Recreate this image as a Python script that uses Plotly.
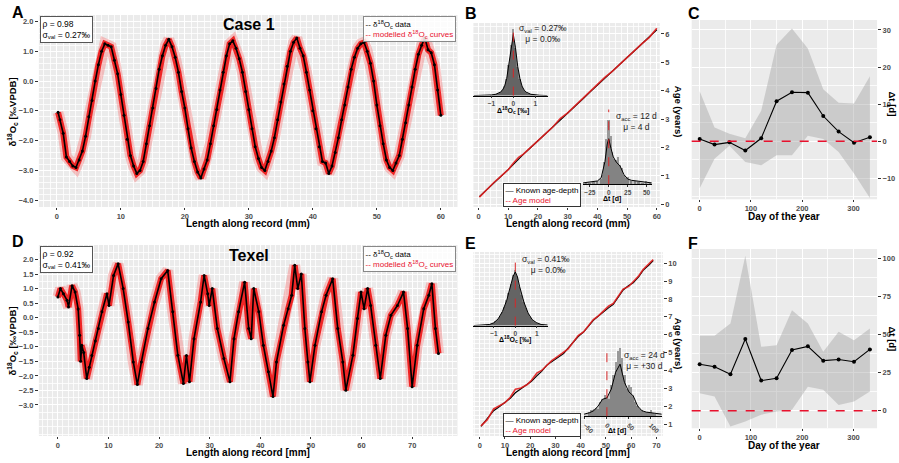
import plotly.graph_objects as go

W, H = 899, 463
def px(x): return x / W
def py(y): return 1 - y / H

FONT = "Liberation Sans, Arial, sans-serif"
TICKC = "#4D4D4D"

# ---------------- Panel A (Case 1) ----------------
A_len = [0.2, 0.5, 1.0, 1.5, 2.0, 2.5, 3.0, 3.5, 4.0, 4.5, 5.0, 5.5, 6.0, 6.5, 7.0, 7.5, 8.0, 8.5, 9.0, 9.5,
         10.0, 10.5, 11.0, 11.5, 12.0, 12.5, 13.0, 13.5, 14.0, 14.5, 15.0, 15.5, 16.0, 16.5, 17.0, 17.5, 18.0, 18.5, 19.0, 19.5,
         20.0, 20.5, 21.0, 21.5, 22.0, 22.5, 23.0, 23.5, 24.0, 24.5, 25.0, 25.5, 26.0, 26.5, 27.0, 27.5, 28.0, 28.5, 29.0, 29.5,
         30.0, 30.5, 31.0, 31.5, 32.0, 32.5, 33.0, 33.5, 34.0, 34.5, 35.0, 35.5, 36.0, 36.5, 37.0, 37.5, 38.0, 38.5, 39.0, 39.5,
         40.0, 40.5, 41.0, 41.5, 42.0, 42.5, 43.0, 43.5, 44.0, 44.5, 45.0, 45.5, 46.0, 46.5, 47.0, 47.5, 48.0, 48.5, 49.0, 49.5,
         50.0, 50.5, 51.0, 51.5, 52.0, 52.5, 53.0, 53.5, 54.0, 54.5, 55.0, 55.5, 56.0, 56.5, 57.0, 57.5, 58.0, 58.5, 59.0, 59.5, 60.0]
A_d18O = [-1.05, -1.3, -1.75, -2.55, -2.7, -2.85, -2.9, -2.65, -2.35, -1.85, -1.2, -0.65, 0.0, 0.55, 1.0, 1.25, 1.2, 1.15, 0.7, 0.25,
          -0.45, -1.15, -1.95, -2.5, -2.85, -3.1, -3.0, -2.7, -2.1, -1.5, -0.9, -0.25, 0.4, 0.85, 1.2, 1.4, 1.15, 0.8, 0.3, -0.35,
          -0.9, -1.6, -2.25, -2.7, -3.05, -3.25, -2.95, -2.65, -2.1, -1.5, -0.95, -0.3, 0.3, 0.85, 1.25, 1.35, 1.1, 0.75, 0.3, -0.35,
          -0.95, -1.6, -2.2, -2.6, -2.9, -3.0, -2.7, -2.35, -1.9, -1.3, -0.7, -0.1, 0.5, 1.0, 1.3, 1.45, 1.1, 0.85, 0.3, -0.3,
          -1.0, -1.6, -2.2, -2.7, -2.75, -3.1, -2.85, -2.4, -1.9, -1.3, -0.8, -0.2, 0.4, 0.8, 1.1, 1.25, 1.3, 1.0, 0.6, 0.0,
          -0.8, -1.5, -2.1, -2.65, -2.9, -3.0, -2.75, -2.5, -1.95, -1.4, -0.8, -0.2, 0.4, 0.9, 1.2, 1.45, 1.05, 0.95, 0.55, -0.3, -1.15]

# ---------------- Panel D (Texel) ----------------
D_len = [0.0, 0.5, 1.1, 1.8, 2.1, 2.8, 3.4, 4.0, 4.3, 4.5, 4.7, 5.1, 5.7, 6.2, 6.7, 7.4, 8.0, 8.7, 9.7, 10.1,
         11.0, 11.9, 12.9, 13.9, 14.9, 15.7, 16.5, 17.8, 19.1, 20.4, 21.7, 22.7, 23.7, 24.8, 25.4, 26.0, 26.9, 28.2, 28.9, 29.6,
         29.9, 30.5, 31.5, 32.8, 34.0, 34.8, 35.7, 36.9, 37.7, 38.2, 38.7, 39.7, 40.6, 41.6, 42.5, 43.2, 44.6, 45.5, 46.2, 46.8,
         47.4, 48.1, 48.8, 49.4, 49.8, 50.8, 52.1, 53.0, 54.3, 55.3, 56.3, 56.9, 58.3, 59.2, 59.9, 60.5, 61.2, 61.8, 62.8, 63.7,
         64.8, 65.8, 67.1, 68.3, 69.1, 70.0, 71.0, 72.3, 73.3, 73.9, 74.6, 75.2]
D_d18O = [0.71, 1.0, 0.82, 0.6, 0.37, 1.1, 0.88, 0.3, -0.6, -1.5, -0.95, -1.2, -2.09, -1.7, -1.3, -0.8, -0.37, 0.2, 0.82, 0.42,
          1.45, 1.85, 1.0, -0.15, -1.52, -2.3, -1.52, -0.37, 0.54, 1.34, 1.62, 0.2, -1.29, -2.26, -1.3, -2.2, -0.72, 0.54, 1.45, 0.82,
          0.42, 1.0, -0.37, -1.4, -2.2, -0.72, 0.2, 1.22, -0.37, -0.72, 1.0, 0.2, -0.95, -1.86, -2.71, -1.52, -0.26, 0.31, 0.77, 1.8,
          1.0, 1.5, -0.37, -1.52, -2.2, -0.95, 0.2, 0.77, 1.34, -0.37, -1.52, -2.49, -1.29, -0.03, 0.88, 0.31, 1.0, 0.42, -0.95, -2.09,
          -0.6, 0.08, 0.42, 0.88, -0.37, -2.37, -0.95, 0.31, 0.77, 1.17, -0.37, -1.23]

# ---------------- Panel B (age-depth, Case 1) ----------------
B_len = [0.3, 2.5, 5, 7.5, 10, 12, 13.5, 15, 17.5, 20, 22.5, 25, 27.5, 30, 32.5, 35, 37.5, 40, 42.5, 45, 47.5, 50, 52.5, 55, 57.5, 60]
B_known = [0.27, 0.48, 0.74, 0.98, 1.22, 1.43, 1.6, 1.75, 1.99, 2.23, 2.47, 2.71, 2.98, 3.22, 3.45, 3.7, 3.95, 4.2, 4.45, 4.68, 4.93, 5.17, 5.41, 5.66, 5.9, 6.15]
B_model = [0.25, 0.5, 0.75, 0.98, 1.22, 1.48, 1.65, 1.76, 1.99, 2.23, 2.48, 2.72, 3.02, 3.22, 3.47, 3.72, 3.95, 4.2, 4.47, 4.68, 4.93, 5.17, 5.42, 5.66, 5.88, 6.2]

# ---------------- Panel E (age-depth, Texel) ----------------
E_len = [0.5, 3, 5.5, 8, 10, 12.1, 14.1, 16, 18.7, 20.5, 22.6, 24.5, 26.6, 28.5, 30.5, 33.2, 35, 37.1, 39, 41.1, 43, 45, 47, 49, 51, 52.9, 55, 56.8, 59, 60.8, 63, 64.7, 67, 68.7]
E_known = [0.87, 1.3, 1.75, 2.0, 2.2, 2.45, 2.75, 2.95, 3.2, 3.4, 3.7, 3.95, 4.3, 4.5, 4.7, 4.95, 5.25, 5.6, 5.9, 6.15, 6.45, 6.8, 7.05, 7.3, 7.5, 7.7, 8.1, 8.5, 8.75, 8.9, 9.25, 9.6, 9.9, 10.15]
E_model = [0.9, 1.25, 1.85, 2.05, 2.2, 2.5, 2.95, 3.0, 3.2, 3.45, 3.85, 4.0, 4.3, 4.55, 4.75, 5.05, 5.2, 5.6, 5.95, 6.15, 6.5, 6.85, 7.05, 7.3, 7.6, 7.75, 8.15, 8.55, 8.7, 8.95, 9.3, 9.65, 9.95, 10.2]

# ---------------- Insets: histograms ----------------
B1_bins = [-1.0, -0.9, -0.8, -0.7, -0.6, -0.5, -0.4, -0.3, -0.2, -0.1, 0.0, 0.1, 0.2, 0.3, 0.4, 0.5, 0.6, 0.7, 0.8, 0.9, 1.0]
B1_counts = [0.01, 0.01, 0.02, 0.03, 0.05, 0.08, 0.14, 0.25, 0.46, 0.76, 1.0, 0.72, 0.43, 0.25, 0.14, 0.08, 0.05, 0.03, 0.02, 0.01, 0.01]
B1_dens_x = [-1.8, -1.2, -1.0, -0.8, -0.6, -0.5, -0.4, -0.3, -0.2, -0.1, 0.0, 0.1, 0.2, 0.3, 0.4, 0.5, 0.6, 0.8, 1.0, 1.2, 1.55]
B1_dens_y = [0.0, 0.005, 0.01, 0.02, 0.05, 0.08, 0.14, 0.26, 0.47, 0.75, 0.92, 0.72, 0.44, 0.26, 0.14, 0.08, 0.05, 0.02, 0.01, 0.005, 0.0]

B2_bins = [-30, -25, -20, -15, -10, -7.5, -5, -2.5, 0, 2.5, 5, 7.5, 10, 12.5, 15, 17.5, 20, 22.5, 25, 30, 35, 40, 45, 50, 55]
B2_counts = [0.03, 0.03, 0.04, 0.05, 0.08, 0.15, 0.35, 0.7, 1.0, 0.75, 0.5, 0.4, 0.38, 0.42, 0.3, 0.25, 0.15, 0.1, 0.12, 0.06, 0.05, 0.04, 0.03, 0.05, 0.02]
B2_dens_x = [-34, -25, -15, -10, -5, -2, 0, 3, 6, 10, 15, 20, 25, 30, 40, 50, 57]
B2_dens_y = [0.02, 0.03, 0.05, 0.1, 0.35, 0.62, 0.7, 0.55, 0.42, 0.34, 0.28, 0.15, 0.08, 0.06, 0.04, 0.03, 0.02]

E1_bins = [-1.3, -1.2, -1.1, -1.0, -0.9, -0.8, -0.7, -0.6, -0.5, -0.4, -0.3, -0.2, -0.1, 0.0, 0.1, 0.2, 0.3, 0.4, 0.5, 0.6, 0.7, 0.8, 0.9, 1.0, 1.1, 1.2, 1.3]
E1_counts = [0.01, 0.02, 0.03, 0.05, 0.08, 0.12, 0.17, 0.25, 0.34, 0.45, 0.58, 0.75, 0.9, 1.0, 0.88, 0.7, 0.55, 0.42, 0.31, 0.22, 0.15, 0.1, 0.07, 0.05, 0.03, 0.02, 0.01]
E1_dens_x = [-1.95, -1.4, -1.2, -1.0, -0.8, -0.6, -0.4, -0.2, -0.1, 0.0, 0.1, 0.2, 0.4, 0.6, 0.8, 1.0, 1.2, 1.5]
E1_dens_y = [0.0, 0.01, 0.02, 0.05, 0.12, 0.25, 0.45, 0.74, 0.88, 0.96, 0.87, 0.7, 0.42, 0.22, 0.1, 0.05, 0.02, 0.01]

E2_bins = [-40, -35, -30, -25, -20, -15, -10, -5, 0, 5, 10, 15, 20, 25, 30, 35, 40, 45, 50, 55, 60, 65, 70, 75, 80, 85, 90, 95, 100, 105, 110]
E2_counts = [0.05, 0.08, 0.1, 0.12, 0.1, 0.2, 0.25, 0.3, 0.28, 0.25, 0.45, 0.6, 0.8, 0.95, 1.0, 0.85, 0.6, 0.4, 0.45, 0.42, 0.3, 0.2, 0.15, 0.1, 0.08, 0.06, 0.05, 0.06, 0.08, 0.04, 0.03]
E2_dens_x = [-52, -40, -30, -20, -10, 0, 10, 20, 30, 40, 50, 60, 70, 80, 90, 100, 110, 125]
E2_dens_y = [0.03, 0.05, 0.08, 0.15, 0.25, 0.27, 0.4, 0.65, 0.77, 0.5, 0.36, 0.3, 0.15, 0.08, 0.06, 0.05, 0.04, 0.03]

# ---------------- Panels C & F: seasonal timing error ----------------
C_day = [0, 29, 58, 89, 120, 150, 180, 211, 241, 271, 301, 332]
C_dt = [0.6, -0.9, -0.3, -2.5, 0.8, 10.8, 13.2, 13.1, 6.8, 2.6, -0.4, 1.1]
C_hi = [13.5, 3.7, 2.0, 0.8, 8.2, 26.0, 30.4, 25.0, 14.0, 10.4, 10.2, 17.5]
C_lo = [-12.7, -4.7, -1.2, -5.6, -6.5, -3.8, -3.8, 1.5, 0.6, -2.9, -8.7, -15.3]

F_day = [0, 29, 60, 89, 120, 150, 180, 211, 241, 271, 301, 332]
F_dt = [30.6, 29.0, 24.0, 47.2, 19.9, 21.4, 40.0, 42.4, 33.0, 33.8, 32.3, 40.4]
F_hi = [49.3, 49.3, 57.4, 102.0, 42.1, 43.2, 66.2, 57.4, 38.9, 52.0, 46.5, 54.1]
F_lo = [11.6, 9.4, -10.3, -7.0, -2.6, -0.4, 0.7, 15.9, 13.8, 3.9, 6.1, 12.7]

ref_zero = 0

fig = go.Figure()

def sc(**kw):
    kw.setdefault("showlegend", False)
    kw.setdefault("hoverinfo", "skip")
    fig.add_trace(go.Scatter(**kw))

# A & D traces
for xs, ys, xa, ya in [(A_len, A_d18O, "x", "y"), (D_len, D_d18O, "x4", "y4")]:
    sc(x=xs, y=ys, mode="lines", line=dict(color="rgba(245,100,100,0.35)", width=11), xaxis=xa, yaxis=ya)
    sc(x=xs, y=ys, mode="lines", line=dict(color="rgba(238,20,20,0.9)", width=6), xaxis=xa, yaxis=ya)
    sc(x=xs, y=ys, mode="lines+markers", line=dict(color="black", width=1.6),
       marker=dict(size=3, color="black"), xaxis=xa, yaxis=ya)

# B & E age-depth
for xs, yk, ym, xa, ya in [(B_len, B_known, B_model, "x2", "y2"), (E_len, E_known, E_model, "x5", "y5")]:
    sc(x=xs, y=yk, mode="lines", line=dict(color="black", width=1.2), xaxis=xa, yaxis=ya)
    sc(x=xs, y=ym, mode="lines", line=dict(color="rgba(225,30,30,0.9)", width=1.6), xaxis=xa, yaxis=ya)

# Insets
def inset(bins, counts, width, dx, dy, xa, ya, fillc):
    fig.add_trace(go.Bar(x=bins, y=counts, width=width, marker=dict(color="#9a9a9a", line=dict(width=0)),
                         xaxis=xa, yaxis=ya, showlegend=False, hoverinfo="skip"))
    sc(x=dx, y=dy, mode="lines", line=dict(color="black", width=1), fill="tozeroy", fillcolor=fillc,
       xaxis=xa, yaxis=ya)

inset(B1_bins, B1_counts, 0.1, B1_dens_x, B1_dens_y, "x7", "y7", "rgba(70,70,70,0.65)")
inset(B2_bins, B2_counts, 2.5, B2_dens_x, B2_dens_y, "x8", "y8", "rgba(90,90,90,0.35)")
inset(E1_bins, E1_counts, 0.1, E1_dens_x, E1_dens_y, "x9", "y9", "rgba(70,70,70,0.65)")
inset(E2_bins, E2_counts, 5, E2_dens_x, E2_dens_y, "x10", "y10", "rgba(90,90,90,0.3)")

# C & F
for d, v, hi, lo, xa, ya in [(C_day, C_dt, C_hi, C_lo, "x3", "y3"), (F_day, F_dt, F_hi, F_lo, "x6", "y6")]:
    sc(x=d, y=hi, mode="lines", line=dict(width=0, color="rgba(0,0,0,0)"), xaxis=xa, yaxis=ya)
    sc(x=d, y=lo, mode="lines", line=dict(width=0, color="rgba(0,0,0,0)"), fill="tonexty",
       fillcolor="rgba(160,160,160,0.42)", xaxis=xa, yaxis=ya)
    sc(x=d, y=v, mode="lines+markers", line=dict(color="black", width=1.1),
       marker=dict(size=4, color="black"), xaxis=xa, yaxis=ya)

# ---------------- Axes ----------------
TF = dict(size=7.5, color=TICKC, family=FONT, weight="bold")

def main_x(domain, rng, dtick, minor, anchor):
    return dict(domain=domain, range=rng, dtick=dtick, anchor=anchor, ticks="outside", ticklen=2,
                tickcolor="#333", tickwidth=1, showgrid=True, gridcolor="white", gridwidth=1.1,
                minor=dict(dtick=minor, showgrid=True, gridcolor="rgba(255,255,255,0.8)", gridwidth=0.5, ticks=""),
                zeroline=False, showline=False, tickfont=TF, ticklabeloverflow="allow")

def main_y(domain, rng, tickvals, minor, anchor, side="left", fmt=None):
    d = dict(domain=domain, range=rng, tickvals=tickvals, anchor=anchor, side=side, ticks="outside", ticklen=3,
             tickcolor="#333", tickwidth=1, showgrid=True, gridcolor="white", gridwidth=1.1,
             minor=dict(dtick=minor, showgrid=True, gridcolor="rgba(255,255,255,0.8)", gridwidth=0.5, ticks=""),
             zeroline=False, showline=False, tickfont=TF, ticklabeloverflow="allow")
    if fmt:
        d["tickformat"] = fmt
    return d

A_yticks = [2.0, 1.0, 0.0, -1.0, -2.0, -3.0, -4.0]
D_yticks = [2.0, 1.5, 1.0, 0.5, 0.0, -0.5, -1.0, -1.5, -2.0, -2.5, -3.0]
B_yticks = [0, 1, 2, 3, 4, 5, 6]
E_yticks = [1, 2, 3, 4, 5, 6, 7, 8, 9, 10]
C_yticks = [-10, 0, 10, 20, 30]
F_yticks = [0, 25, 50, 75, 100]

layout = dict(
    xaxis=main_x([px(37), px(457)], [-2.8, 62.6], 10, 1, "y"),
    yaxis=main_y([py(208), py(15)], [-4.23, 2.22], A_yticks, 0.2, "x", fmt=".1f"),
    xaxis2=main_x([px(473), px(660)], [-1.7, 61], 10, 2, "y2"),
    yaxis2=main_y([py(208), py(23)], [-0.1, 6.39], B_yticks, 0.25, "x2", side="right"),
    xaxis3=main_x([px(692), px(878)], [-15.6, 346], 100, 50, "y3"),
    yaxis3=main_y([py(200), py(20)], [-15.6, 32.7], C_yticks, 5, "x3", side="right"),
    xaxis4=main_x([px(37), px(457)], [-3.76, 78.96], 10, 1, "y4"),
    yaxis4=main_y([py(438), py(246)], [-4.07, 2.5], D_yticks, 0.25, "x4", fmt=".1f"),
    xaxis5=main_x([px(473), px(663)], [-2.5, 72.5], 10, 2, "y5"),
    yaxis5=main_y([py(438), py(253)], [0.33, 10.63], E_yticks, 0.25, "x5", side="right"),
    xaxis6=main_x([px(692), px(878)], [-15.6, 346], 100, 50, "y6"),
    yaxis6=main_y([py(430), py(250)], [-11.4, 106.5], F_yticks, 12.5, "x6", side="right"),
)

def inset_x(domain, rng, tickvals, anchor, angle=0):
    return dict(domain=domain, range=rng, tickvals=tickvals, anchor=anchor, showgrid=False, zeroline=False,
                showline=True, linecolor="black", linewidth=0.8, ticks="outside", ticklen=2, tickcolor="#333",
                tickangle=angle, tickfont=dict(size=6.5, color=TICKC, family=FONT, weight="bold"))

def inset_y(domain, rng, anchor):
    return dict(domain=domain, range=rng, anchor=anchor, visible=False)

layout.update(
    xaxis7=inset_x([px(473), px(548)], [-1.82, 1.59], [-1, 0, 1], "y7"),
    yaxis7=inset_y([py(96), py(24)], [0, 1.08], "x7"),
    xaxis8=inset_x([px(583), px(652)], [-34, 57], [-25, 0, 25, 50], "y8"),
    yaxis8=inset_y([py(185), py(110)], [0, 1.15], "x8"),
    xaxis9=inset_x([px(473), px(548)], [-1.95, 1.53], [-1, 0, 1], "y9"),
    yaxis9=inset_y([py(327), py(255)], [0, 1.28], "x9"),
    xaxis10=inset_x([px(584), px(662)], [-52, 125], [-50, 0, 50, 100], "y10", angle=45),
    yaxis10=inset_y([py(418), py(348)], [0, 1.03], "x10"),
)

shapes = []
for k in ["", "2", "3", "4", "5", "6"]:
    shapes.append(dict(type="rect", xref=f"x{k} domain", yref=f"y{k} domain", x0=0, x1=1, y0=0, y1=1,
                       fillcolor="#EBEBEB", line=dict(width=0), layer="below"))
for k in ["3", "6"]:
    shapes.append(dict(type="line", xref=f"x{k} domain", yref=f"y{k}", x0=0, x1=1, y0=ref_zero, y1=ref_zero,
                       line=dict(color="#E8112D", width=1.6, dash="dash")))
for k in ["7", "8", "9", "10"]:
    shapes.append(dict(type="line", xref=f"x{k}", yref=f"y{k} domain", x0=ref_zero, x1=ref_zero, y0=0, y1=1.0,
                       line=dict(color="#D62728", width=1, dash="dash")))

ann = []
def A_(x, y, text, size=9, xanchor="left", yanchor="top", color="black", bold=False, angle=0, **kw):
    d = dict(x=px(x), y=py(y), xref="paper", yref="paper", text=text, showarrow=False, xanchor=xanchor,
             yanchor=yanchor, textangle=angle,
             font=dict(size=size, color=color, family=FONT, weight="bold" if bold else "normal"))
    d.update(kw)
    ann.append(d)

for L, x, y in [("A", 8, 2), ("B", 463, 3), ("C", 686, 3), ("D", 8, 232), ("E", 463, 234), ("F", 686, 234)]:
    A_(x, y, L, size=16, bold=True)

A_(248, 25, "Case 1", size=16, bold=True, xanchor="center", yanchor="middle")
A_(248, 257, "Texel", size=16, bold=True, xanchor="center", yanchor="middle")

d18 = "δ<sup>18</sup>O<sub>c</sub>"
A_(247, 224, "Length along record (mm)", size=10, bold=True, xanchor="center", yanchor="middle")
A_(247, 454, "Length along record [mm]", size=10, bold=True, xanchor="center", yanchor="middle")
A_(568, 224, "Length along record (mm)", size=10, bold=True, xanchor="center", yanchor="middle")
A_(568, 454, "Length along record [mm]", size=10, bold=True, xanchor="center", yanchor="middle")
A_(785, 217, "Day of the year", size=10, bold=True, xanchor="center", yanchor="middle")
A_(785, 447, "Day of the year", size=10, bold=True, xanchor="center", yanchor="middle")
A_(11, 112, d18 + " [‰VPDB]", size=9.5, bold=True, xanchor="center", yanchor="middle", angle=-90)
A_(11, 342, d18 + " [‰VPDB]", size=9.5, bold=True, xanchor="center", yanchor="middle", angle=-90)
A_(679, 112, "Age (years)", size=9.5, bold=True, xanchor="center", yanchor="middle", angle=90)
A_(679, 345, "Age (years)", size=9.5, bold=True, xanchor="center", yanchor="middle", angle=90)
A_(893, 104, "Δt [d]", size=9.5, bold=True, xanchor="center", yanchor="middle", angle=90)
A_(893, 340, "Δt [d]", size=9.5, bold=True, xanchor="center", yanchor="middle", angle=90)

A_(513, 111, "Δ<sup>18</sup>O<sub>c</sub> [‰]", size=7, bold=True, xanchor="center", yanchor="middle")
A_(612, 200, "Δt [d]", size=7, bold=True, xanchor="center", yanchor="middle")
A_(515, 341, "Δ<sup>18</sup>O<sub>c</sub> [‰]", size=7, bold=True, xanchor="center", yanchor="middle")
A_(617, 433, "Δt [d]", size=7, bold=True, xanchor="center", yanchor="middle")

A_(517, 21, "σ<sub>val</sub> = 0.27‰<br>μ = 0.0‰", size=8.5, color="#222")
A_(614, 109, "σ<sub>acc</sub> = 12 d<br>μ = 4 d", size=8.5, color="#222")
A_(520, 253, "σ<sub>val</sub> = 0.41‰<br>  μ = 0.0‰", size=8.5, color="#222")
A_(622, 350, "σ<sub>acc</sub> = 24 d<br>μ = +30 d", size=8.5, color="#222")

for y0, txt in [(16, "ρ = 0.98<br>σ<sub>val</sub> = 0.27‰"), (247, "ρ = 0.92<br>σ<sub>val</sub> = 0.41‰")]:
    A_(38, y0, txt, size=8.5, bordercolor="#555", borderwidth=1, borderpad=1.5, bgcolor="white", align="left")
leg_txt = ("-- " + d18 + " data<br><span style='color:#E8112D'>-- modelled " + d18 + " curves</span>")
for y0 in [16, 247]:
    A_(456, y0, leg_txt, size=8, xanchor="right", bordercolor="#888", borderwidth=1, borderpad=1.5,
       bgcolor="rgba(255,255,255,0.85)", align="left")
for y0 in [184, 415]:
    A_(503, y0, "— Known age-depth<br><span style='color:#E8112D'>-- Age model</span>", size=8,
       bordercolor="#333", borderwidth=1, borderpad=1.5, bgcolor="white", align="left")

layout.update(
    width=W, height=H, margin=dict(l=0, r=0, t=0, b=0), paper_bgcolor="white",
    plot_bgcolor="rgba(0,0,0,0)", showlegend=False, barmode="overlay", bargap=0,
    shapes=shapes, annotations=ann, font=dict(family=FONT),
)
fig.update_layout(**layout)
fig.write_html("out.html", config={"displayModeBar": False},
               post_script="document.body.style.margin='0px';document.body.style.overflow='hidden';")
